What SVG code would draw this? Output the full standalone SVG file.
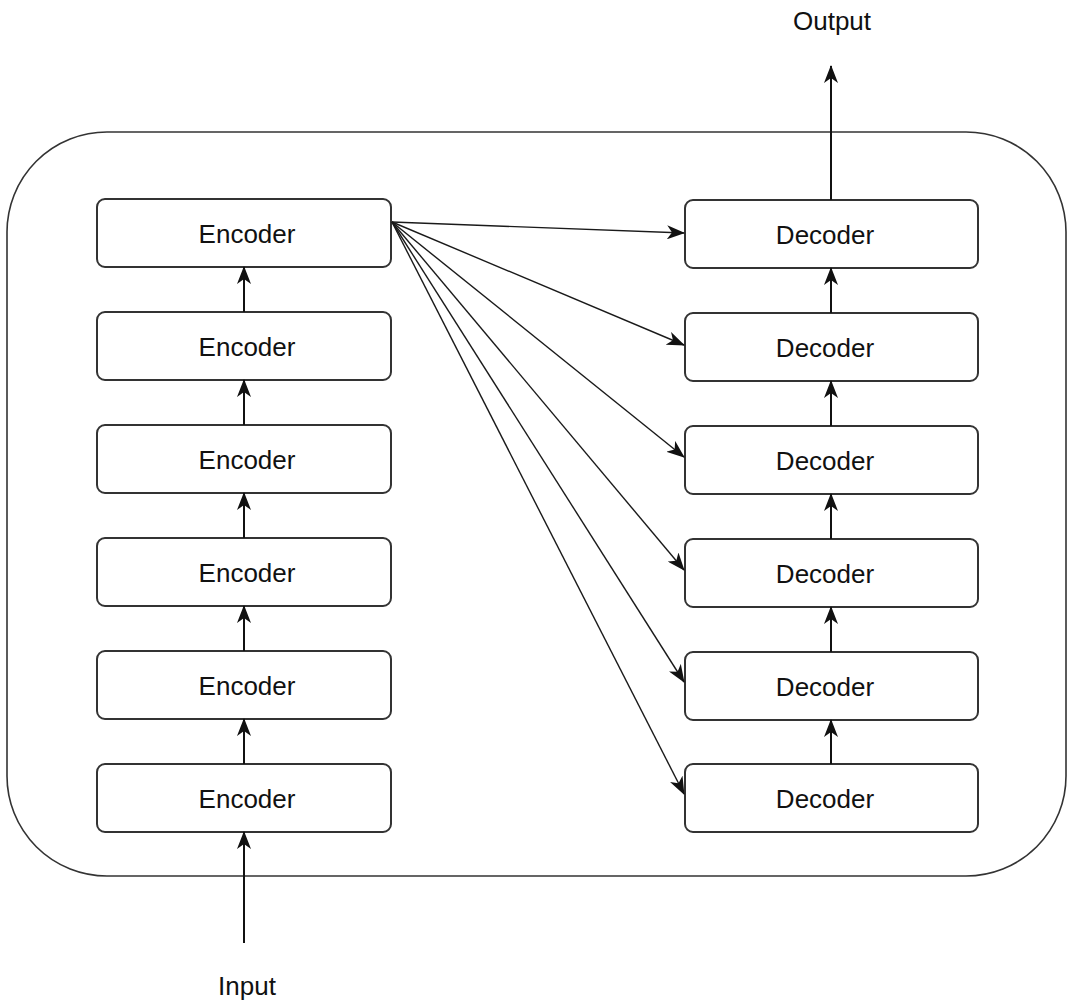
<svg xmlns="http://www.w3.org/2000/svg" width="1068" height="1001" viewBox="0 0 1068 1001">
  <style>
    .frame { fill: none; stroke: #333; stroke-width: 1.6; }
    .box { fill: #fff; stroke: #333; stroke-width: 2; }
    .label { font-family: "Liberation Sans", Arial, sans-serif; font-size: 26px; fill: #111; text-anchor: middle; }
    .link { fill: none; stroke: #111; stroke-width: 2; marker-end: url(#head); }
    .fan { fill: none; stroke: #1a1a1a; stroke-width: 1.4; marker-end: url(#head); }
  </style>
  <defs>
    <marker id="head" markerUnits="userSpaceOnUse" viewBox="0 0 18 14" markerWidth="18" markerHeight="14" refX="17" refY="7" orient="auto">
      <path d="M0,0 L18,7 L0,14 L5,7 z" fill="#111"/>
    </marker>
  </defs>

  <!-- outer container -->
  <rect class="frame" x="7" y="132" width="1059" height="744" rx="100" ry="100"/>

  <!-- encoder stack -->
  <g id="enc1"><rect class="box" x="97" y="199" width="294" height="68" rx="8"/><text class="label" x="247" y="243">Encoder</text></g>
  <g id="enc2"><rect class="box" x="97" y="312" width="294" height="68" rx="8"/><text class="label" x="247" y="356">Encoder</text></g>
  <g id="enc3"><rect class="box" x="97" y="425" width="294" height="68" rx="8"/><text class="label" x="247" y="469">Encoder</text></g>
  <g id="enc4"><rect class="box" x="97" y="538" width="294" height="68" rx="8"/><text class="label" x="247" y="582">Encoder</text></g>
  <g id="enc5"><rect class="box" x="97" y="651" width="294" height="68" rx="8"/><text class="label" x="247" y="695">Encoder</text></g>
  <g id="enc6"><rect class="box" x="97" y="764" width="294" height="68" rx="8"/><text class="label" x="247" y="808">Encoder</text></g>

  <!-- decoder stack -->
  <g id="dec1"><rect class="box" x="685" y="200" width="293" height="68" rx="8"/><text class="label" x="825" y="244">Decoder</text></g>
  <g id="dec2"><rect class="box" x="685" y="313" width="293" height="68" rx="8"/><text class="label" x="825" y="357">Decoder</text></g>
  <g id="dec3"><rect class="box" x="685" y="426" width="293" height="68" rx="8"/><text class="label" x="825" y="470">Decoder</text></g>
  <g id="dec4"><rect class="box" x="685" y="539" width="293" height="68" rx="8"/><text class="label" x="825" y="583">Decoder</text></g>
  <g id="dec5"><rect class="box" x="685" y="652" width="293" height="68" rx="8"/><text class="label" x="825" y="696">Decoder</text></g>
  <g id="dec6"><rect class="box" x="685" y="764" width="293" height="68" rx="8"/><text class="label" x="825" y="808">Decoder</text></g>

  <!-- input / output labels -->
  <g id="input"><text class="label" x="247" y="995">Input</text></g>
  <g id="output"><text class="label" x="832" y="30">Output</text></g>

  <g id="connectors">
    <!-- input into the bottom encoder -->
    <path class="link" d="M244,943 V832"/>
    <!-- encoder chain -->
    <path class="link" d="M244,764 V719"/>
    <path class="link" d="M244,651 V606"/>
    <path class="link" d="M244,538 V493"/>
    <path class="link" d="M244,425 V380"/>
    <path class="link" d="M244,312 V267"/>
    <!-- decoder chain -->
    <path class="link" d="M831,764 V720"/>
    <path class="link" d="M831,652 V607"/>
    <path class="link" d="M831,539 V494"/>
    <path class="link" d="M831,426 V381"/>
    <path class="link" d="M831,313 V268"/>
    <!-- top decoder to output -->
    <path class="link" d="M831,200 V66"/>
    <!-- top encoder fans out to every decoder -->
    <path class="fan" d="M392,222 L684,233"/>
    <path class="fan" d="M392,222 L684,345"/>
    <path class="fan" d="M392,222 L684,457"/>
    <path class="fan" d="M392,222 L684,570"/>
    <path class="fan" d="M392,222 L684,682"/>
    <path class="fan" d="M392,222 L684,794"/>
  </g>
</svg>
